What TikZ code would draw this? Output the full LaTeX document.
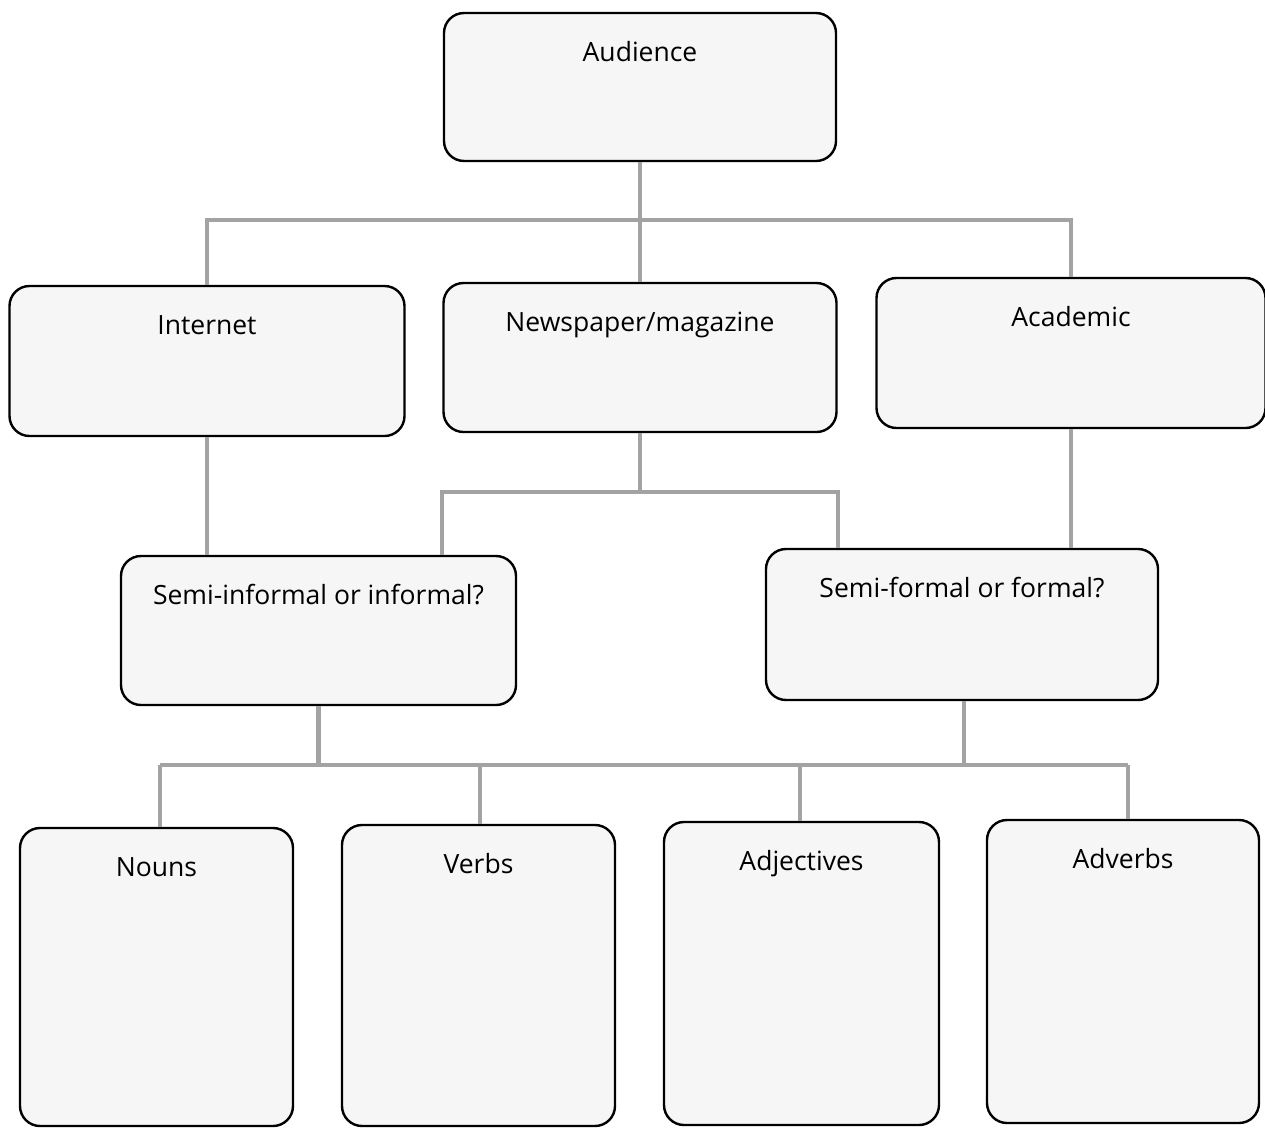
\documentclass[tikz,border=0pt]{standalone}
\usepackage{fontspec}
\setmainfont{Open Sans}
\begin{document}
\begin{tikzpicture}[x=1pt,y=-1pt,
  box/.style={draw=black, line width=2.4pt, fill=gray!7, rounded corners=20pt, inner sep=0pt},
  lab/.style={font=\fontsize{26.5}{31}\selectfont, text=black},
  conn/.style={draw=gray!72, line width=4.2pt}]
\useasboundingbox (0,0) rectangle (1265,1128);
\def\mkbox#1#2#3#4#5#6{%
  \node[box, minimum width=#4pt, minimum height=#5pt,
        label={[lab, anchor=base, yshift=-50pt]north:#6}] (#1) at (#2,#3) {};}
% junctions
\coordinate (j1) at (640,220);
\coordinate (j2) at (640,492);
\coordinate (j3) at (318.5,765);
\coordinate (j4) at (964,765);
\coordinate (dn) at (160,765);
\coordinate (dv) at (480,765);
\coordinate (da) at (800,765);
\coordinate (dd) at (1128,765);
% boxes
\mkbox{aud}{640}{87}{392}{148}{Audience}
\mkbox{int}{207}{361}{395}{150}{Internet}
\mkbox{news}{640}{357.5}{393}{149}{Newspaper/magazine}
\mkbox{aca}{1071}{353}{389}{150}{Academic}
\mkbox{sinf}{318.5}{630.5}{395}{149}{Semi-informal or informal?}
\mkbox{sfor}{962}{624.5}{392}{151}{Semi-formal or formal?}
\mkbox{nouns}{156.5}{977}{273}{298}{Nouns}
\mkbox{verbs}{478.5}{975.5}{273}{301}{Verbs}
\mkbox{adj}{801.5}{973.5}{275}{303}{Adjectives}
\mkbox{adv}{1123}{971.5}{272}{303}{Adverbs}
% connectors
\path[conn] (aud.south) -- (j1);
\path[conn] (int.north) |- (j1);
\path[conn] (aca.north) |- (j1);
\path[conn] (news.north) -- (j1);
\path[conn] (int.south) -- (int.south |- sinf.north);
\path[conn] (news.south) -- (j2);
\path[conn] (j2) -| (news.west |- sinf.north);
\path[conn] (j2) -| (news.east |- sfor.north);
\path[conn] (aca.south) -- (aca.south |- sfor.north);
\path[conn] (sinf.south) -- (j3);
\path[conn] (j4 |- sfor.south) -- (j4);
\path[conn] (dn) -- (dd);
\path[conn] (dn |- nouns.north) -- (dn);
\path[conn] (dv |- verbs.north) -- (dv);
\path[conn] (da |- adj.north) -- (da);
\path[conn] (dd |- adv.north) -- (dd);
\end{tikzpicture}
\end{document}
